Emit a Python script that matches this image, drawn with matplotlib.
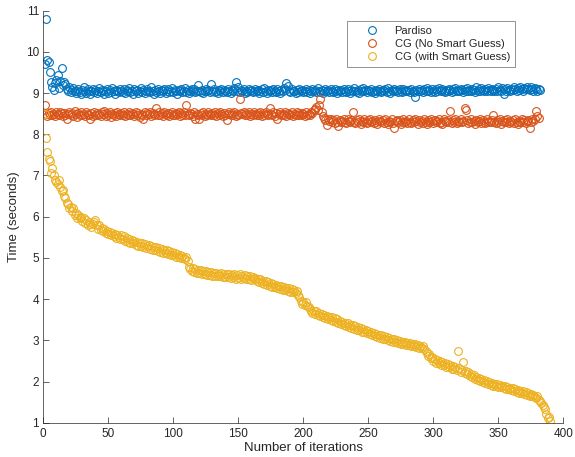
import numpy as np
import matplotlib
matplotlib.use("Agg")
import matplotlib.pyplot as plt

plt.rcParams["font.family"] = ["Liberation Sans", "DejaVu Sans"]

# ── data ──────────────────────────────────────────────────
pardiso = [
    9.70, 10.80, 9.80, 9.75, 9.50, 9.28, 9.16, 9.08, 9.25, 9.32, 9.44, 9.12, 9.30, 9.60, 9.20, 9.28, 9.22, 9.10, 9.05, 9.15,
    9.02, 9.08, 9.12, 9.04, 9.00, 9.06, 9.10, 9.03, 8.98, 9.07, 9.14, 9.05, 9.01, 9.09, 9.04, 8.99, 9.06, 9.11, 9.03, 9.07,
    9.00, 9.05, 9.13, 9.02, 9.08, 9.04, 8.98, 9.06, 9.10, 9.01, 9.07, 9.03, 9.12, 9.05, 8.99, 9.08, 9.04, 9.02, 9.09, 9.06,
    9.03, 9.11, 9.00, 9.07, 9.05, 9.13, 9.02, 9.06, 8.99, 9.10, 9.04, 9.08, 9.01, 9.05, 9.12, 9.03, 9.07, 9.00, 9.06, 9.09,
    9.04, 9.02, 9.14, 9.05, 8.99, 9.08, 9.03, 9.10, 9.06, 9.01, 9.07, 9.04, 9.11, 9.00, 9.05, 9.09, 9.03, 9.06, 9.12, 9.02,
    9.07, 9.04, 8.98, 9.08, 9.05, 9.10, 9.02, 9.06, 9.13, 9.03, 9.07, 9.00, 9.05, 9.09, 9.04, 9.11, 9.02, 9.06, 9.20, 9.05,
    9.03, 9.08, 9.01, 9.06, 9.10, 9.04, 9.07, 9.02, 9.22, 9.05, 9.09, 9.03, 9.06, 9.00, 9.08, 9.04, 9.11, 9.02, 9.07, 9.05,
    9.03, 9.09, 9.06, 9.01, 9.08, 9.04, 9.12, 9.26, 9.05, 9.16, 9.02, 9.07, 9.04, 9.09, 9.00, 9.06, 9.03, 9.10, 9.05, 9.08,
    9.02, 9.06, 9.11, 9.04, 9.07, 9.01, 9.05, 9.09, 9.03, 9.13, 9.06, 9.00, 9.08, 9.04, 9.07, 9.02, 9.10, 9.05, 9.03, 9.09,
    9.06, 9.01, 9.08, 9.04, 9.12, 9.07, 9.24, 9.18, 9.05, 9.02, 9.09, 9.04, 9.06, 9.00, 9.08, 9.03, 9.11, 9.05, 9.07, 9.02,
    9.06, 9.10, 9.03, 9.08, 9.01, 9.05, 9.09, 9.04, 9.07, 9.02, 9.12, 9.06, 9.03, 9.08, 9.00, 9.05, 9.10, 9.04, 9.07, 9.02,
    9.09, 9.05, 9.03, 9.11, 9.06, 9.01, 9.08, 9.04, 9.07, 9.02, 9.10, 9.05, 9.03, 9.09, 9.06, 9.00, 9.08, 9.04, 9.12, 9.05,
    9.03, 9.07, 9.01, 9.09, 9.05, 9.13, 9.04, 9.07, 9.02, 9.08, 9.05, 9.10, 9.03, 9.06, 9.00, 9.08, 9.04, 9.11, 9.06, 9.02,
    9.07, 9.05, 9.09, 9.03, 9.12, 9.06, 9.01, 9.08, 9.04, 9.10, 9.05, 9.07, 9.03, 9.09, 9.06, 9.02, 9.11, 9.05, 9.08, 9.04,
    9.07, 9.03, 9.10, 9.06, 9.02, 8.91, 9.08, 9.05, 9.11, 9.04, 9.07, 9.03, 9.09, 9.06, 9.12, 9.04, 9.08, 9.02, 9.10, 9.06,
    9.03, 9.09, 9.05, 9.12, 9.07, 9.04, 9.10, 9.06, 9.02, 9.08, 9.05, 9.11, 9.07, 9.03, 9.09, 9.06, 9.13, 9.04, 9.08, 9.05,
    9.10, 9.07, 9.03, 9.09, 9.06, 9.12, 9.04, 9.08, 9.05, 9.11, 9.07, 9.03, 9.14, 9.06, 9.09, 9.05, 9.12, 9.07, 9.04, 9.10,
    9.06, 9.13, 9.08, 9.05, 9.11, 9.07, 9.04, 9.10, 9.06, 9.14, 9.08, 9.05, 9.12, 8.97, 9.09, 9.06, 9.13, 9.08, 9.05, 9.11,
    9.07, 9.14, 9.09, 9.06, 9.12, 9.08, 9.15, 9.10, 9.06, 9.13, 9.09, 9.16, 9.11, 9.07, 9.14, 9.10, 9.06, 9.13, 9.09, 9.04,
    9.11, 9.07,
]

cg_plain = [
    8.72, 8.50, 8.45, 8.52, 8.48, 8.55, 8.46, 8.50, 8.44, 8.53, 8.49, 8.47, 8.55, 8.51, 8.45, 8.52, 8.48, 8.38, 8.50, 8.54,
    8.47, 8.51, 8.45, 8.56, 8.49, 8.43, 8.52, 8.48, 8.54, 8.46, 8.50, 8.44, 8.53, 8.49, 8.47, 8.38, 8.51, 8.45, 8.55, 8.48,
    8.52, 8.46, 8.50, 8.44, 8.53, 8.49, 8.56, 8.45, 8.51, 8.47, 8.54, 8.43, 8.50, 8.48, 8.52, 8.45, 8.55, 8.49, 8.46, 8.51,
    8.47, 8.53, 8.44, 8.50, 8.48, 8.55, 8.46, 8.52, 8.49, 8.45, 8.54, 8.47, 8.51, 8.43, 8.50, 8.48, 8.37, 8.53, 8.46, 8.51,
    8.49, 8.55, 8.45, 8.52, 8.47, 8.50, 8.63, 8.48, 8.53, 8.46, 8.51, 8.44, 8.54, 8.49, 8.47, 8.52, 8.45, 8.50, 8.55, 8.48,
    8.46, 8.52, 8.49, 8.54, 8.45, 8.51, 8.47, 8.53, 8.48, 8.71, 8.50, 8.46, 8.52, 8.49, 8.44, 8.53, 8.37, 8.50, 8.47, 8.38,
    8.51, 8.48, 8.54, 8.45, 8.50, 8.47, 8.53, 8.49, 8.46, 8.52, 8.48, 8.55, 8.44, 8.51, 8.47, 8.53, 8.49, 8.45, 8.52, 8.48,
    8.35, 8.50, 8.54, 8.46, 8.51, 8.48, 8.53, 8.45, 8.50, 8.47, 8.85, 8.52, 8.49, 8.55, 8.46, 8.51, 8.48, 8.54, 8.45, 8.50,
    8.47, 8.53, 8.49, 8.46, 8.52, 8.48, 8.55, 8.44, 8.51, 8.47, 8.53, 8.49, 8.46, 8.63, 8.50, 8.48, 8.54, 8.45, 8.51, 8.36,
    8.49, 8.53, 8.46, 8.50, 8.48, 8.55, 8.45, 8.52, 8.49, 8.47, 8.53, 8.44, 8.50, 8.48, 8.54, 8.46, 8.51, 8.47, 8.52, 8.49,
    8.45, 8.53, 8.48, 8.50, 8.46, 8.55, 8.52, 8.58, 8.62, 8.67, 8.60, 8.72, 8.85, 8.55, 8.45, 8.40, 8.35, 8.23, 8.38, 8.32,
    8.36, 8.30, 8.34, 8.28, 8.37, 8.31, 8.21, 8.35, 8.29, 8.33, 8.38, 8.30, 8.27, 8.36, 8.32, 8.29, 8.34, 8.55, 8.31, 8.28,
    8.35, 8.30, 8.37, 8.26, 8.33, 8.29, 8.36, 8.31, 8.27, 8.34, 8.38, 8.30, 8.33, 8.28, 8.35, 8.31, 8.25, 8.37, 8.32, 8.29,
    8.34, 8.28, 8.36, 8.31, 8.24, 8.33, 8.30, 8.37, 8.27, 8.16, 8.32, 8.35, 8.29, 8.34, 8.26, 8.31, 8.38, 8.30, 8.33, 8.28,
    8.36, 8.31, 8.27, 8.34, 8.29, 8.37, 8.32, 8.25, 8.35, 8.30, 8.33, 8.28, 8.38, 8.31, 8.26, 8.34, 8.29, 8.36, 8.32, 8.27,
    8.35, 8.30, 8.33, 8.37, 8.28, 8.31, 8.25, 8.36, 8.32, 8.29, 8.34, 8.30, 8.57, 8.27, 8.35, 8.31, 8.38, 8.28, 8.33, 8.30,
    8.36, 8.29, 8.32, 8.65, 8.58, 8.34, 8.27, 8.31, 8.37, 8.30, 8.33, 8.26, 8.35, 8.29, 8.32, 8.38, 8.28, 8.34, 8.31, 8.27,
    8.36, 8.30, 8.33, 8.29, 8.35, 8.47, 8.31, 8.28, 8.34, 8.30, 8.37, 8.26, 8.33, 8.29, 8.35, 8.31, 8.38, 8.27, 8.32, 8.30,
    8.34, 8.28, 8.36, 8.31, 8.25, 8.33, 8.29, 8.37, 8.30, 8.34, 8.27, 8.32, 8.35, 8.16, 8.30, 8.38, 8.33, 8.36, 8.57, 8.44,
    8.40,
]

cg_smart = [
    8.50, 7.90, 7.58, 7.40, 7.34, 7.05, 7.18, 7.02, 6.90, 6.85, 6.80, 6.88, 6.72, 6.62, 6.66, 6.50, 6.45, 6.33, 6.30, 6.22,
    6.24, 6.13, 6.20, 6.05, 6.08, 5.98, 6.03, 5.96, 6.00, 5.90, 5.97, 5.84, 5.91, 5.80, 5.86, 5.83, 5.76, 5.82, 5.88, 5.92,
    5.80, 5.71, 5.79, 5.68, 5.73, 5.65, 5.70, 5.61, 5.66, 5.57, 5.64, 5.55, 5.60, 5.52, 5.58, 5.49, 5.56, 5.50, 5.47, 5.55,
    5.45, 5.52, 5.42, 5.48, 5.39, 5.46, 5.37, 5.44, 5.35, 5.41, 5.32, 5.39, 5.30, 5.36, 5.28, 5.35, 5.26, 5.33, 5.24, 5.30,
    5.31, 5.22, 5.29, 5.20, 5.26, 5.18, 5.27, 5.17, 5.24, 5.15, 5.22, 5.13, 5.19, 5.12, 5.18, 5.09, 5.16, 5.07, 5.14, 5.06,
    5.12, 5.03, 5.09, 5.01, 5.07, 4.99, 5.05, 5.00, 4.97, 5.02, 4.92, 4.78, 4.74, 4.69, 4.76, 4.66, 4.73, 4.64, 4.71, 4.63,
    4.70, 4.62, 4.68, 4.60, 4.67, 4.59, 4.65, 4.58, 4.66, 4.57, 4.63, 4.56, 4.64, 4.55, 4.62, 4.56, 4.63, 4.54, 4.61, 4.53,
    4.60, 4.54, 4.62, 4.52, 4.59, 4.53, 4.61, 4.50, 4.58, 4.52, 4.60, 4.49, 4.57, 4.51, 4.58, 4.48, 4.56, 4.50, 4.55, 4.47,
    4.54, 4.49, 4.52, 4.45, 4.50, 4.42, 4.48, 4.40, 4.45, 4.37, 4.43, 4.35, 4.41, 4.33, 4.39, 4.30, 4.36, 4.29, 4.34, 4.26,
    4.32, 4.25, 4.31, 4.23, 4.29, 4.21, 4.27, 4.19, 4.26, 4.18, 4.24, 4.17, 4.23, 4.16, 4.20, 4.10, 4.04, 3.95, 3.88, 3.94,
    3.86, 3.93, 3.84, 3.82, 3.76, 3.71, 3.66, 3.72, 3.63, 3.70, 3.61, 3.67, 3.58, 3.65, 3.56, 3.62, 3.54, 3.60, 3.51, 3.57,
    3.49, 3.56, 3.46, 3.53, 3.44, 3.51, 3.41, 3.48, 3.40, 3.45, 3.37, 3.43, 3.35, 3.41, 3.32, 3.38, 3.30, 3.36, 3.28, 3.34,
    3.26, 3.32, 3.24, 3.30, 3.21, 3.28, 3.19, 3.25, 3.17, 3.23, 3.15, 3.20, 3.12, 3.18, 3.10, 3.16, 3.08, 3.14, 3.06, 3.12,
    3.04, 3.10, 3.02, 3.07, 3.00, 3.06, 2.98, 3.04, 2.97, 3.02, 2.95, 3.00, 2.93, 2.99, 2.92, 2.97, 2.90, 2.96, 2.89, 2.94,
    2.88, 2.93, 2.86, 2.91, 2.85, 2.90, 2.83, 2.89, 2.82, 2.87, 2.81, 2.86, 2.80, 2.75, 2.70, 2.62, 2.66, 2.56, 2.60, 2.50,
    2.54, 2.46, 2.51, 2.44, 2.49, 2.41, 2.47, 2.39, 2.44, 2.36, 2.42, 2.34, 2.39, 2.31, 2.37, 2.30, 2.34, 2.27, 2.75, 2.32,
    2.24, 2.29, 2.47, 2.21, 2.25, 2.17, 2.22, 2.13, 2.18, 2.10, 2.15, 2.07, 2.11, 2.04, 2.09, 2.02, 2.06, 1.99, 2.04, 1.97,
    2.01, 1.94, 1.99, 1.92, 1.97, 1.90, 1.95, 1.89, 1.94, 1.87, 1.92, 1.86, 1.90, 1.84, 1.89, 1.82, 1.87, 1.81, 1.85, 1.79,
    1.84, 1.77, 1.82, 1.75, 1.80, 1.73, 1.78, 1.71, 1.76, 1.69, 1.74, 1.67, 1.72, 1.66, 1.70, 1.64, 1.68, 1.62, 1.60, 1.65,
    1.56, 1.53, 1.48, 1.44, 1.38, 1.34, 1.21, 1.11, 1.15, 1.05,
]

series = [
    ("Pardiso", pardiso, "#0072BD"),
    ("CG (No Smart Guess)", cg_plain, "#D95319"),
    ("CG (with Smart Guess)", cg_smart, "#EDB120"),
]

# ── plot ──────────────────────────────────────────────────
fig = plt.figure(figsize=(5.75, 4.57), dpi=100)
ax = fig.add_axes([43.3 / 575, 34.3 / 457, 520 / 575, 412 / 457])

for label, vals, color in series:
    x = np.arange(1, len(vals) + 1)
    ax.plot(x, vals, "o", mfc="none", mec=color, ms=5.6, mew=0.8, label=label)

ax.set_xlim(0, 400)
ax.set_ylim(1, 11)
ax.set_xticks(np.arange(0, 401, 50))
ax.set_yticks(np.arange(1, 12, 1))

axc = "#262626"
ax.spines[["top", "right"]].set_visible(False)
for s in ["left", "bottom"]:
    ax.spines[s].set_color(axc)
    ax.spines[s].set_linewidth(0.5)
ax.tick_params(direction="in", length=4, width=0.5, colors=axc, labelsize=8.5)
ax.tick_params(axis="x", pad=4)
ax.tick_params(axis="y", pad=3)

ax.set_xlabel("Number of iterations", fontsize=9.5, color=axc, labelpad=1.5)
ax.set_ylabel("Time (seconds)", fontsize=9.5, color=axc, labelpad=4)

leg = ax.legend(loc="upper right", bbox_to_anchor=(0.907, 0.976), fontsize=8,
                frameon=True, fancybox=False, framealpha=1, edgecolor="#808080",
                borderaxespad=0, borderpad=0.45, labelspacing=0.3,
                handletextpad=0.25, handlelength=3.6)
leg.get_frame().set_linewidth(0.6)
for t in leg.get_texts():
    t.set_color(axc)

fig.savefig("out.png", dpi=100)
